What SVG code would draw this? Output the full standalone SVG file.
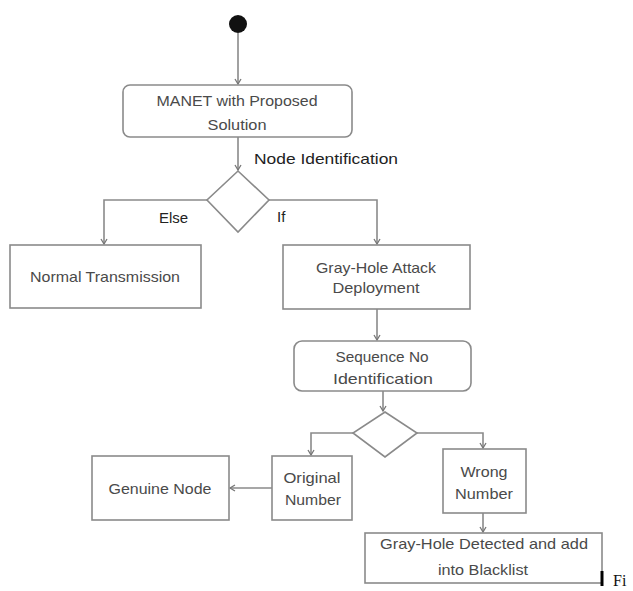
<svg xmlns="http://www.w3.org/2000/svg" width="633" height="591" viewBox="0 0 633 591">
<style>
.box{fill:#fff;stroke:#8a8a8a;stroke-width:1.6}
.t{font-family:"Liberation Sans",Arial,sans-serif;font-size:15px;fill:#4a4a4a;text-anchor:middle}
.lab{font-family:"Liberation Sans",Arial,sans-serif;font-size:15px;fill:#222}
.c{fill:none;stroke:#8a8a8a;stroke-width:1.6}
</style>
<defs>
<marker id="ah" markerWidth="8" markerHeight="8" refX="6" refY="4" orient="auto" markerUnits="userSpaceOnUse">
<path d="M1,1 L6,4 L1,7" fill="none" stroke="#777" stroke-width="1.3"/>
</marker>
</defs>
<rect width="633" height="591" fill="#fff"/>
<g id="connectors">
<path class="c" d="M238,33 V84" marker-end="url(#ah)"/>
<path class="c" d="M238,137 V170" marker-end="url(#ah)"/>
<path class="c" d="M207,200 H104 V244" marker-end="url(#ah)"/>
<path class="c" d="M269,200 H377 V244" marker-end="url(#ah)"/>
<path class="c" d="M377,309 V340" marker-end="url(#ah)"/>
<path class="c" d="M383,391 V411" marker-end="url(#ah)"/>
<path class="c" d="M353,433 H311 V455" marker-end="url(#ah)"/>
<path class="c" d="M417,433 H483 V448" marker-end="url(#ah)"/>
<path class="c" d="M272,488 H230" marker-end="url(#ah)"/>
<path class="c" d="M483,513 V532" marker-end="url(#ah)"/>
</g>
<g id="start"><circle cx="238" cy="24" r="9" fill="#111"/></g>
<g id="manet">
<rect class="box" x="123" y="85" width="229" height="52" rx="7"/>
<text class="t" x="237" y="106" textLength="161" lengthAdjust="spacingAndGlyphs">MANET with Proposed</text>
<text class="t" x="137" y="130" textLength="59" lengthAdjust="spacingAndGlyphs" transform="translate(100,0)">Solution</text>
</g>
<g id="decision1">
<polygon class="box" points="238,171 269,200 238,232 207,200"/>
<text class="lab" x="254" y="164" textLength="144" lengthAdjust="spacingAndGlyphs">Node Identification</text>
<text class="lab" x="159" y="223">Else</text>
<text class="lab" x="277" y="222">If</text>
</g>
<g id="normal">
<rect class="box" x="10" y="245" width="191" height="63"/>
<text class="t" x="105" y="282" textLength="150" lengthAdjust="spacingAndGlyphs">Normal Transmission</text>
</g>
<g id="grayhole">
<rect class="box" x="283" y="245" width="187" height="64"/>
<text class="t" x="376" y="273" textLength="120" lengthAdjust="spacingAndGlyphs">Gray-Hole Attack</text>
<text class="t" x="376" y="293" textLength="87" lengthAdjust="spacingAndGlyphs">Deployment</text>
</g>
<g id="sequence">
<rect class="box" x="294" y="341" width="177" height="50" rx="8"/>
<text class="t" x="382" y="362" textLength="93" lengthAdjust="spacingAndGlyphs">Sequence No</text>
<text class="t" x="383" y="384" textLength="100" lengthAdjust="spacingAndGlyphs">Identification</text>
</g>
<g id="decision2">
<polygon class="box" points="385,412 417,433 385,457 353,433"/>
</g>
<g id="genuine">
<rect class="box" x="92" y="456" width="137" height="64"/>
<text class="t" x="160" y="494" textLength="103" lengthAdjust="spacingAndGlyphs">Genuine Node</text>
</g>
<g id="original">
<rect class="box" x="272" y="456" width="80" height="64"/>
<text class="t" x="312" y="483" textLength="57" lengthAdjust="spacingAndGlyphs">Original</text>
<text class="t" x="313" y="505" textLength="56" lengthAdjust="spacingAndGlyphs">Number</text>
</g>
<g id="wrong">
<rect class="box" x="443" y="449" width="83" height="64"/>
<text class="t" x="484" y="477" textLength="47" lengthAdjust="spacingAndGlyphs">Wrong</text>
<text class="t" x="484" y="499" textLength="58" lengthAdjust="spacingAndGlyphs">Number</text>
</g>
<g id="blacklist">
<rect class="box" x="365" y="533" width="237" height="50"/>
<text class="t" x="484" y="549" textLength="208" lengthAdjust="spacingAndGlyphs">Gray-Hole Detected and add</text>
<text class="t" x="483" y="575" textLength="90" lengthAdjust="spacingAndGlyphs">into Blacklist</text>
<line x1="602" y1="571" x2="602" y2="586" stroke="#000" stroke-width="3"/>
</g>
<text x="613" y="586" font-family="'Liberation Serif','Times New Roman',serif" font-size="16" fill="#111">Fi</text>
</svg>
